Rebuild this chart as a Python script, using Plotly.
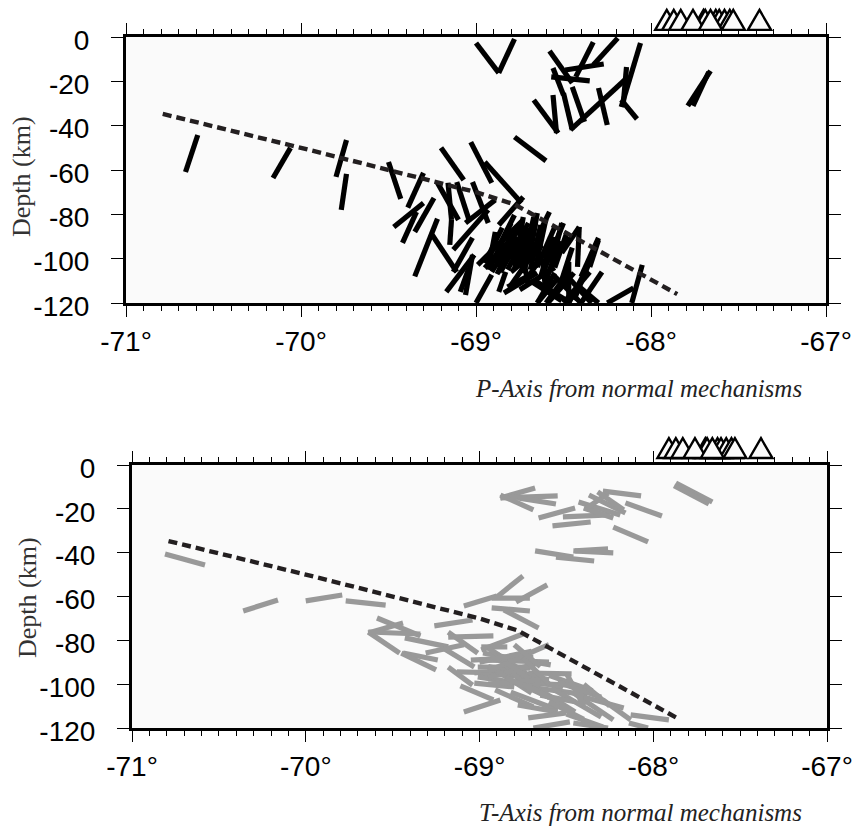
import plotly.graph_objects as go

trench_lon = [-70.79, -70.0, -69.0, -68.78, -67.85]
trench_dep = [-34.7, -50.0, -70.0, -75.5, -116.0]
# drawn in this order, later ones cover earlier ones
volcano_lon = [-67.91, -67.87, -67.83, -67.70, -67.69, -67.63, -67.61, -67.58, -67.55, -67.76, -67.66, -67.53, -67.38]

# P-axis sticks: (lon, depth) of both ends
p_lon_a = [-69.00,-68.87,-68.58,-68.33,-68.19,-68.27,-68.56,-68.57,-68.06,-68.14,-67.66,-67.67,-68.67,-68.56,-68.45,-68.50,-68.15,-68.30,-68.17,-68.78,
           -69.20,-69.03,-68.95,-69.50,-69.30,-69.30,-69.34,-69.24,-69.22,-69.25,-69.22,-69.16,-69.11,-69.02,-68.89,-69.14,-68.93,-69.02,-69.01,-69.02,
           -69.04,-68.91,-68.73,-68.78,-68.89,-68.73,-68.74,-68.76,-68.70,-68.80,-68.73,-68.67,-68.70,-68.65,-68.58,-68.63,-68.55,-68.50,-68.51,-68.47,
           -68.41,-68.41,-68.30,-68.30,-68.84,-68.82,-68.83,-68.47,-68.50,-68.44,-68.55,-68.67,-68.38,-68.05,-68.10,-68.33,-70.59,-70.06,-69.74,-69.74,
           -68.72,-68.68,-68.62,-68.58,-68.62,-68.75,-68.55,-68.42,
           -68.85,-68.80,-68.77,-68.70,-68.66,-68.60,-68.56,-68.52,-68.48,-68.66,-68.55,-68.45,-68.35,-68.28,-68.48,-68.69,-68.54]
p_dep_a = [-2.7,-16.2,-6.3,-2.3,-0.5,-12.2,-14.0,-18.0,-2.7,-13.5,-15.3,-15.8,-28.4,-26.2,-22.5,-25.3,-19.4,-23.0,-28.4,-45.1,
           -50.0,-47.4,-56.4,-56.4,-61.3,-74.9,-78.9,-72.6,-82.0,-89.3,-65.8,-65.8,-65.4,-65.4,-73.5,-82.5,-78.0,-90.6,-98.3,-98.3,
           -104.2,-107.3,-72.2,-80.3,-87.9,-82.5,-85.7,-87.0,-83.9,-88.4,-81.2,-81.2,-87.0,-79.4,-78.9,-84.8,-85.7,-83.9,-83.9,-90.2,
           -85.7,-85.7,-90.6,-91.6,-115.5,-112.8,-106.0,-101.5,-106.0,-106.4,-106.4,-109.6,-106.4,-102.8,-113.2,-97.4,-44.2,-50.0,-46.5,-61.8,
           -90.0,-92.0,-94.0,-94.0,-100.0,-92.0,-108.0,-112.0,
           -86.0,-84.0,-90.0,-86.0,-84.0,-82.0,-90.0,-92.0,-88.0,-96.0,-104.0,-95.0,-106.0,-106.0,-107.0,-110.0,-109.6]
p_lon_b = [-68.87,-68.78,-68.45,-68.43,-68.33,-68.49,-68.50,-68.35,-68.17,-68.16,-67.79,-67.76,-68.53,-68.54,-68.38,-68.45,-68.46,-68.25,-68.08,-68.60,
           -69.07,-68.91,-68.74,-69.43,-69.39,-69.47,-69.42,-69.35,-69.35,-69.11,-69.10,-69.14,-69.04,-68.93,-69.06,-69.15,-69.13,-69.13,-69.17,-69.06,
           -69.09,-69.00,-68.87,-68.86,-68.93,-68.99,-68.95,-68.91,-68.86,-68.87,-68.78,-68.74,-68.82,-68.70,-68.65,-68.69,-68.65,-68.61,-68.57,-68.59,
           -68.51,-68.42,-68.40,-68.35,-68.65,-68.66,-68.87,-68.47,-68.34,-68.59,-68.65,-68.46,-68.47,-68.11,-68.25,-68.44,-70.66,-70.16,-69.80,-69.77,
           -68.90,-68.88,-68.80,-68.70,-68.60,-68.70,-68.40,-68.30,
           -68.95,-68.92,-68.88,-68.77,-68.72,-68.66,-68.63,-68.60,-68.55,-68.80,-68.75,-68.52,-68.50,-68.40,-68.60,-68.51,-68.65]
p_dep_b = [-16.2,-0.9,-20.7,-18.0,-12.6,-14.9,-26.2,-19.8,-31.6,-31.6,-31.1,-31.1,-43.3,-43.3,-38.3,-41.9,-41.9,-39.7,-37.0,-55.9,
           -64.5,-65.8,-74.9,-73.0,-77.0,-85.7,-92.9,-87.9,-108.0,-106.0,-82.5,-82.5,-82.5,-83.9,-83.9,-93.8,-96.0,-106.0,-115.0,-116.4,
           -115.0,-120.0,-84.8,-92.9,-105.0,-102.8,-104.2,-106.0,-106.0,-106.4,-105.0,-106.4,-105.0,-101.9,-90.2,-105.0,-103.7,-105.0,-103.7,-106.4,
           -97.4,-103.7,-108.2,-103.7,-106.4,-106.0,-115.0,-120.0,-120.0,-120.0,-120.0,-120.0,-120.0,-120.0,-120.0,-118.6,-60.9,-63.6,-63.1,-78.0,
           -101.0,-103.0,-106.0,-108.0,-116.0,-112.0,-120.0,-120.0,
           -102.0,-104.0,-107.0,-104.0,-104.0,-104.0,-108.0,-110.0,-104.0,-112.0,-114.0,-112.0,-120.0,-120.0,-120.0,-119.0,-120.0]

# T-axis sticks
t_lon_a = [-68.68,-68.55,-68.56,-68.69,-68.45,-68.36,-68.25,-68.07,-67.95,-68.16,-68.19,-68.23,-68.26,-68.32,-68.03,-67.66,-67.68,-68.68,-68.45,-68.23,-68.34,
           -68.75,-68.61,-68.90,-68.93,-68.93,-68.86,-69.79,-69.77,-70.36,-70.81,
           -69.04,-69.59,-69.44,-69.64,-69.64,-69.43,-69.18,-69.18,-68.75,-69.44,-69.45,-69.31,-69.21,-69.18,-69.11,-69.09,-69.13,-69.05,-69.01,-69.03,-69.03,
           -68.99,-68.98,-68.95,-68.95,-68.99,-69.01,-68.72,-68.74,-68.82,-68.72,-68.91,-68.82,-68.78,-68.67,-68.57,-68.46,-68.40,-68.29,-68.72,-68.69,-68.50,-68.46,-68.13,-68.14,
           -68.95,-68.90,
           -68.60,-68.70,-68.65,-68.75,-68.85,-68.80,-68.95,-68.90,-68.85,-68.60,-68.55,-68.50,-68.65,-68.75,-68.40,-68.60]
t_dep_a = [-10.5,-14.1,-17.8,-20.5,-19.6,-26.0,-22.8,-14.1,-23.3,-21.9,-22.8,-24.2,-12.8,-12.3,-35.1,-16.9,-17.8,-39.2,-39.2,-40.1,-43.8,
           -50.6,-54.7,-59.8,-60.7,-65.2,-66.1,-59.3,-62.0,-66.6,-40.6,
           -70.7,-69.8,-72.1,-76.2,-76.2,-78.9,-76.2,-78.5,-77.1,-85.8,-85.8,-85.8,-83.5,-92.2,-100.8,-112.7,-94.4,-89.0,-92.2,-94.9,-99.5,
           -83.0,-85.8,-83.5,-89.0,-95.8,-96.7,-94.9,-99.5,-95.8,-101.3,-102.6,-103.6,-109.5,-101.7,-102.6,-104.0,-105.8,-107.2,-115.4,-120.0,-113.6,-117.7,-114.0,-117.7,
           -92.0,-86.0,
           -82.0,-85.0,-90.0,-88.0,-90.0,-82.0,-100.0,-94.0,-97.0,-96.0,-99.0,-95.0,-105.0,-100.0,-100.0,-108.0]
t_lon_b = [-68.88,-68.88,-68.78,-68.88,-68.66,-68.58,-68.52,-68.29,-68.16,-68.37,-68.43,-68.40,-68.38,-68.17,-68.23,-67.87,-67.88,-68.46,-68.26,-68.46,-68.56,
           -68.90,-68.79,-69.09,-68.71,-68.71,-68.66,-70.00,-69.54,-70.16,-70.58,
           -69.26,-69.34,-69.64,-69.46,-69.34,-69.18,-69.01,-68.92,-68.99,-69.24,-69.25,-69.09,-69.03,-69.04,-68.92,-68.88,-68.84,-68.69,-68.68,-68.71,-68.80,
           -68.84,-68.59,-68.72,-68.60,-68.69,-68.78,-68.47,-68.48,-68.52,-68.38,-68.69,-68.55,-68.55,-68.45,-68.30,-68.23,-68.17,-68.13,-68.50,-68.48,-68.29,-68.26,-67.91,-68.03,
           -68.60,-68.75,
           -68.95,-69.00,-68.95,-68.60,-68.65,-68.65,-68.65,-68.70,-68.60,-68.35,-68.30,-68.40,-68.45,-68.55,-68.25,-68.40]
t_dep_b = [-15.0,-15.0,-15.0,-13.7,-24.2,-27.8,-23.7,-11.9,-17.3,-13.7,-16.9,-19.6,-19.6,-20.5,-28.3,-8.2,-9.5,-42.0,-38.3,-39.2,-42.0,
           -60.2,-62.5,-64.3,-60.7,-66.6,-74.4,-62.0,-63.9,-61.6,-45.6,
           -73.4,-78.0,-76.6,-85.8,-77.1,-83.0,-85.8,-78.0,-84.4,-89.0,-93.5,-82.0,-92.2,-100.4,-107.2,-107.2,-94.9,-87.6,-92.2,-92.6,-101.3,
           -83.0,-91.2,-95.8,-89.9,-95.8,-99.5,-95.3,-100.4,-101.7,-104.9,-110.4,-111.8,-112.7,-112.7,-115.0,-116.3,-110.9,-116.3,-113.1,-117.2,-119.5,-120.0,-116.3,-120.0,
           -98.0,-100.0,
           -94.0,-90.0,-97.0,-100.0,-101.0,-92.0,-98.0,-104.0,-106.0,-103.0,-106.0,-110.0,-108.0,-108.0,-110.0,-116.0]

x_ticks = [-71, -70, -69, -68, -67]
x_tick_text = ["-71°", "-70°", "-69°", "-68°", "-67°"]
y_ticks = [0, -20, -40, -60, -80, -100, -120]
y_tick_text = ["0", "-20", "-40", "-60", "-80", "-100", "-120"]
captions = ["P-Axis from normal mechanisms", "T-Axis from normal mechanisms"]
y_title = "Depth (km)"

W, H = 858, 830
fig = go.Figure()


def segs(a0, d0, a1, d1):
    xs, ys = [], []
    for p, q, r, s in zip(a0, d0, a1, d1):
        xs += [p, r, None]
        ys += [q, s, None]
    return xs, ys


def add_panel(row, sticks, color):
    xa, ya = ("x", "y") if row == 1 else ("x2", "y2")
    xs, ys = segs(*sticks)
    fig.add_trace(go.Scatter(x=xs, y=ys, mode="lines", xaxis=xa, yaxis=ya, showlegend=False,
                             line=dict(color=color, width=5.2)))
    fig.add_trace(go.Scatter(x=trench_lon, y=trench_dep, mode="lines", xaxis=xa, yaxis=ya, showlegend=False,
                             line=dict(color="#231f20", width=4.4, dash="9px,5px")))
    base = 1 + 3.2 / 120
    apex = 1 + 12.2 / 120
    for v in volcano_lon:
        fig.add_shape(type="path", xref=xa, yref=f"{ya} domain",
                      path=f"M {v - 0.066} {base} L {v + 0.066} {base} L {v} {apex} Z",
                      fillcolor="#fafafa", line=dict(color="black", width=2.4), layer="above")


add_panel(1, (p_lon_a, p_dep_a, p_lon_b, p_dep_b), "black")
add_panel(2, (t_lon_a, t_dep_a, t_lon_b, t_dep_b), "#999999")

axis_common = dict(showgrid=False, zeroline=False, showline=True, linecolor="black", linewidth=3,
                   automargin=False, mirror="ticks", ticks="outside", tickcolor="black", tickwidth=1,
                   tickfont=dict(family="Liberation Sans", size=28, color="black"))
xkw = dict(axis_common, range=[-71, -67], tickmode="array", tickvals=x_ticks, ticktext=x_tick_text, ticklen=11,
           minor=dict(dtick=0.1, tick0=-71, ticks="outside", ticklen=5, tickcolor="black", tickwidth=1, showgrid=False))
ykw = dict(axis_common, range=[-120, 0], tickmode="array", tickvals=y_ticks, ticktext=y_tick_text, ticklen=12,
           ticklabelstandoff=16, ticklabelshift=3)

panels = [(126, 826, 37, 303), (132, 827, 465, 728)]
fig.update_layout(
    width=W, height=H, margin=dict(l=0, r=0, t=0, b=0, autoexpand=False),
    paper_bgcolor="white", plot_bgcolor="#fafafa", showlegend=False,
    xaxis=dict(xkw, domain=[panels[0][0] / W, panels[0][1] / W], anchor="y"),
    yaxis=dict(ykw, domain=[1 - panels[0][3] / H, 1 - panels[0][2] / H], anchor="x"),
    xaxis2=dict(xkw, domain=[panels[1][0] / W, panels[1][1] / W], anchor="y2"),
    yaxis2=dict(ykw, domain=[1 - panels[1][3] / H, 1 - panels[1][2] / H], anchor="x2"),
)

for cap, yc in zip(captions, [388, 812]):
    fig.add_annotation(xref="paper", yref="paper", x=804 / W, y=1 - yc / H, text=f"<i>{cap}</i>", showarrow=False,
                       xanchor="right", yanchor="middle",
                       font=dict(family="Liberation Serif", size=25, color="#222222"))
for xc, yc in zip([21, 27], [177, 598]):
    fig.add_annotation(xref="paper", yref="paper", x=xc / W, y=1 - yc / H, text=y_title, showarrow=False,
                       textangle=-90, xanchor="center", yanchor="middle",
                       font=dict(family="Liberation Serif", size=26, color="#333333"))

fig.write_html("out.html", config={"displayModeBar": False}, post_script="document.body.style.margin='0';")
